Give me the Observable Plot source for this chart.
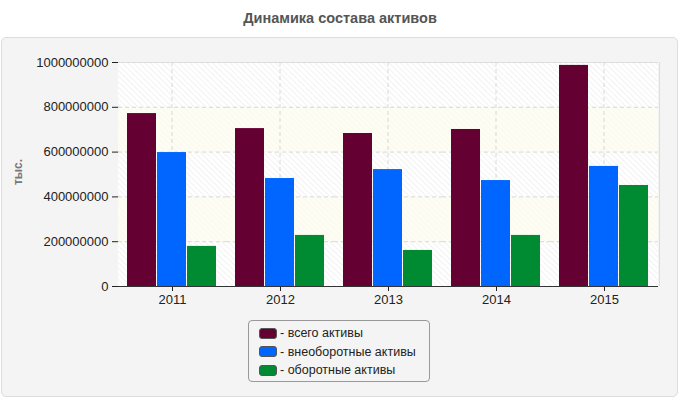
<!DOCTYPE html>
<html>
<head>
<meta charset="utf-8">
<script src="https://cdn.jsdelivr.net/npm/d3@7"></script>
<script src="https://cdn.jsdelivr.net/npm/@observablehq/plot@0.6"></script>
<style>
  html, body { margin: 0; padding: 0; background: #fff; }
  body { width: 680px; height: 400px; position: relative; overflow: hidden; font-family: "Liberation Sans", Arial, sans-serif; }
  #title { position: absolute; left: 0; top: 10px; width: 680px; text-align: center; font-weight: bold; font-size: 14.5px; color: #555; }
  #panel { position: absolute; left: 1px; top: 37px; width: 675px; height: 358px; border: 1px solid #ddd; border-radius: 5px; background: #f4f4f4; }
  #chart { position: absolute; left: 0; top: 0; }
  #ylabel { position: absolute; left: 18px; top: 172px; transform: translate(-50%, -50%) rotate(-90deg); font-size: 12px; font-weight: bold; color: #777; white-space: nowrap; }
  #rborder { position: absolute; left: 659px; top: 62px; width: 1px; height: 224px; background: #ddd; }
  #legend { position: absolute; left: 248px; top: 320px; width: 182px; height: 62px; border: 1px solid #999; border-radius: 4px; background: #f4f4f4; box-sizing: border-box; padding-top: 3px; }
  .item { height: 18.5px; display: flex; align-items: center; font-size: 12.5px; color: #222; padding-left: 10px; }
  .sw { width: 16px; height: 9px; border: 1px solid #555; border-radius: 3px; margin-right: 3px; }
</style>
</head>
<body>
<div id="title">Динамика состава активов</div>
<div id="panel"></div>
<div id="ylabel">тыс.</div>
<div id="chart"></div>
<div id="rborder"></div>
<div id="legend"></div>
<script>
const years = ["2011", "2012", "2013", "2014", "2015"];
const seriesNames = ["всего активы", "внеоборотные активы", "оборотные активы"];
const totalAssets = [772e6, 705e6, 683e6, 701e6, 987e6];
const nonCurrentAssets = [598e6, 482e6, 522e6, 473e6, 536e6];
const currentAssets = [179e6, 228e6, 161e6, 228e6, 451e6];
const seriesColors = ["#650033", "#0066ff", "#008a32"];
const yTicks = [0, 200000000, 400000000, 600000000, 800000000, 1000000000];

const seriesValues = [totalAssets, nonCurrentAssets, currentAssets];
const data = [];
years.forEach((year, i) => {
  seriesNames.forEach((s, j) => data.push({year, series: s, value: seriesValues[j][i]}));
});
const bands = yTicks.slice(0, -1).map((t, i) => ({y1: t, y2: yTicks[i + 1], cream: i % 2 === 1}));

const plot = Plot.plot({
  width: 680,
  height: 310,
  marginLeft: 116,
  marginRight: 20,
  marginTop: 62,
  marginBottom: 24,
  style: {background: "transparent", fontSize: "13px", fontFamily: "'Liberation Sans', Arial, sans-serif", color: "#222"},
  facet: {data, x: "year", marginTop: 0, marginBottom: 0, marginLeft: 0, marginRight: 0},
  fx: {domain: years, padding: 0, axis: "bottom", label: null, tickSize: 5, tickPadding: 3},
  x: {domain: seriesNames, axis: null, paddingInner: 1 / 31, paddingOuter: 0.27},
  y: {domain: [0, 1000000000], ticks: yTicks, tickFormat: d3.format("d"), tickSize: 6, tickPadding: 4, label: null, line: true},
  color: {domain: seriesNames, range: seriesColors},
  marks: [
    Plot.rect(bands, {y1: "y1", y2: "y2", fill: "#fff"}),
    Plot.rect(bands, {y1: "y1", y2: "y2", fill: "url(#hatch)"}),
    Plot.rect(bands.filter(b => b.cream), {y1: "y1", y2: "y2", fill: "#fcfcee", fillOpacity: 0.7}),
    Plot.ruleY(yTicks.slice(1, -1), {stroke: "#d8d8d8", strokeDasharray: "4,3"}),
    Plot.ruleY([yTicks[yTicks.length - 1]], {stroke: "#ddd"}),
    Plot.ruleX([seriesNames[1]], {stroke: "#d8d8d8", strokeDasharray: "4,3"}),
    Plot.barY(data, {x: "series", y: "value", fill: "series"}),
    Plot.ruleY([0], {stroke: "#333"})
  ]
});

const defs = d3.create("svg:defs");
const pat = defs.append("pattern").attr("id", "hatch").attr("patternUnits", "userSpaceOnUse")
  .attr("width", 4).attr("height", 4).attr("patternTransform", "rotate(-45)");
pat.append("line").attr("x1", 0).attr("y1", 0).attr("x2", 0).attr("y2", 4).attr("stroke", "#eee").attr("stroke-width", 1.5);
plot.insertBefore(defs.node(), plot.firstChild);
document.getElementById("chart").appendChild(plot);

const legend = document.getElementById("legend");
seriesNames.forEach((s, i) => {
  const row = document.createElement("div");
  row.className = "item";
  const sw = document.createElement("span");
  sw.className = "sw";
  sw.style.background = seriesColors[i];
  row.appendChild(sw);
  row.appendChild(document.createTextNode("- " + s));
  legend.appendChild(row);
});
</script>
</body>
</html>
